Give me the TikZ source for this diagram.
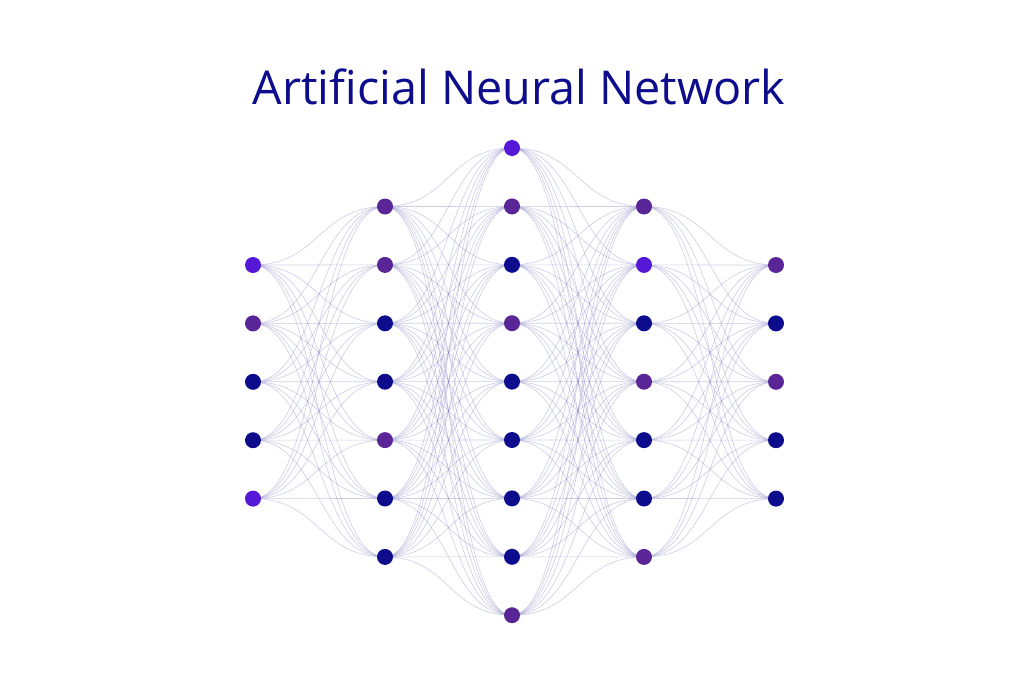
\documentclass[tikz,border=0pt]{standalone}
\usepackage{fontspec}
\setmainfont{Open Sans}
\usetikzlibrary{backgrounds}
\definecolor{navy}{HTML}{0C0C8C}
\definecolor{purp}{HTML}{5A2596}
\definecolor{viol}{HTML}{5518D6}
\definecolor{edgec}{HTML}{7070B8}
\tikzset{
  neuron/.style={circle,inner sep=0pt,minimum size=16pt,draw=none},
  edge/.style={draw=edgec,line width=0.6pt,opacity=0.35},
  title/.style={text=navy,font=\fontsize{46.7}{54}\selectfont}
}
\begin{document}
\begin{tikzpicture}[x=1pt,y=-1pt]
\useasboundingbox (0,0) rectangle (1024,683);
\node[title] (t) at (519,87) {Artificial Neural Network};
\def\dy{58.4}
\foreach \c [count=\i] in {viol,purp,navy,navy,viol}
  \node[neuron,fill=\c] (a\i) at (253,{265+(\i-1)*\dy}) {};
\foreach \c [count=\i] in {purp,purp,navy,navy,purp,navy,navy}
  \node[neuron,fill=\c] (b\i) at (385,{206.5+(\i-1)*\dy}) {};
\foreach \c [count=\i] in {viol,purp,navy,purp,navy,navy,navy,navy,purp}
  \node[neuron,fill=\c] (c\i) at (512,{148+(\i-1)*\dy}) {};
\foreach \c [count=\i] in {purp,viol,navy,purp,navy,navy,purp}
  \node[neuron,fill=\c] (d\i) at (644,{206.5+(\i-1)*\dy}) {};
\foreach \c [count=\i] in {purp,navy,purp,navy,navy}
  \node[neuron,fill=\c] (e\i) at (776,{265+(\i-1)*\dy}) {};
\begin{scope}[on background layer]
\foreach \i in {1,...,5} \foreach \j in {1,...,7}
  \draw[edge] (a\i.center) .. controls +(66,0) and +(-66,0) .. (b\j.center);
\foreach \i in {1,...,7} \foreach \j in {1,...,9}
  \draw[edge] (b\i.center) .. controls +(64,0) and +(-64,0) .. (c\j.center);
\foreach \i in {1,...,9} \foreach \j in {1,...,7}
  \draw[edge] (c\i.center) .. controls +(66,0) and +(-66,0) .. (d\j.center);
\foreach \i in {1,...,7} \foreach \j in {1,...,5}
  \draw[edge] (d\i.center) .. controls +(66,0) and +(-66,0) .. (e\j.center);
\end{scope}
\end{tikzpicture}
\end{document}
